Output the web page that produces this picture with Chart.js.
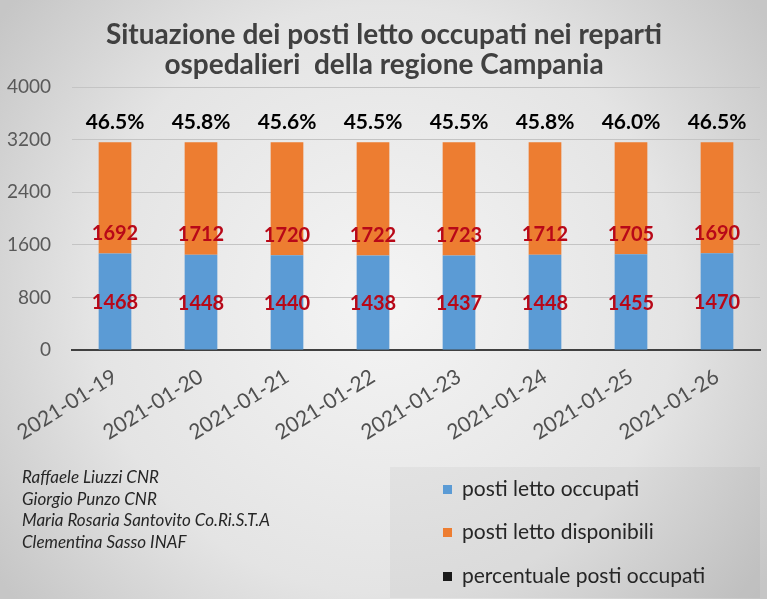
<!DOCTYPE html>
<html>
<head>
<meta charset="utf-8">
<script src="https://cdn.jsdelivr.net/npm/chart.js@4.4.1/dist/chart.umd.min.js"></script>
<style>
  html, body { margin: 0; padding: 0; background: #e0e0e0; }
  #wrap { width: 767px; height: 599px; position: relative; }
</style>
</head>
<body>
<div id="wrap"><canvas id="chart"></canvas></div>
<script>
const dates = ['2021-01-19', '2021-01-20', '2021-01-21', '2021-01-22', '2021-01-23', '2021-01-24', '2021-01-25', '2021-01-26'];
const occupied = [1468, 1448, 1440, 1438, 1437, 1448, 1455, 1470];
const available = [1692, 1712, 1720, 1722, 1723, 1712, 1705, 1690];
const percent = [46.5, 45.8, 45.6, 45.5, 45.5, 45.8, 46.0, 46.5];
const titleLines = ['Situazione dei posti letto occupati nei reparti', 'ospedalieri  della regione Campania'];
const authors = ['Raffaele Liuzzi CNR', 'Giorgio Punzo CNR', 'Maria Rosaria Santovito Co.Ri.S.T.A', 'Clementina Sasso INAF'];

const FONT = 'Lato, "Open Sans", sans-serif';

// grey radial background like the spreadsheet chart
const bgPlugin = {
  id: 'bg',
  beforeDraw(chart) {
    const { ctx, width, height } = chart;
    const g = ctx.createRadialGradient(width / 2, height / 2, 20, width / 2, height / 2, width * 0.62);
    g.addColorStop(0, '#f3f3f3');
    g.addColorStop(0.6, '#e4e4e4');
    g.addColorStop(1, '#c6c6c6');
    ctx.save();
    ctx.fillStyle = g;
    ctx.fillRect(0, 0, width, height);
    ctx.restore();
  }
};

// value labels on the bars + percentage above
const labelPlugin = {
  id: 'labels',
  afterDatasetsDraw(chart) {
    const { ctx } = chart;
    const y = chart.scales.y;
    const bars = chart.getDatasetMeta(0).data;
    ctx.save();
    ctx.textAlign = 'center';
    ctx.textBaseline = 'middle';
    bars.forEach((bar, i) => {
      ctx.font = 'bold 20px ' + FONT;
      ctx.fillStyle = '#b80818';
      ctx.fillText(occupied[i], bar.x, y.getPixelForValue(occupied[i] / 2) + 1);
      ctx.fillText(available[i], bar.x, y.getPixelForValue(occupied[i]) - 20);
      ctx.font = 'bold 21px ' + FONT;
      ctx.fillStyle = '#000';
      ctx.fillText(percent[i].toFixed(1) + '%', bar.x, y.getPixelForValue(occupied[i] + available[i]) - 20);
    });
    ctx.restore();
  }
};

// title, authors and legend box
const extrasPlugin = {
  id: 'extras',
  afterDraw(chart) {
    const { ctx } = chart;
    ctx.save();
    ctx.fillStyle = '#404040';
    ctx.font = 'bold 28px ' + FONT;
    ctx.textAlign = 'center';
    ctx.textBaseline = 'alphabetic';
    titleLines.forEach((t, i) => ctx.fillText(t, 384, 44 + i * 30));

    ctx.font = 'italic 17px ' + FONT;
    ctx.fillStyle = '#262626';
    ctx.textAlign = 'left';
    authors.forEach((a, i) => ctx.fillText(a, 22, 483 + i * 21.7));

    ctx.fillStyle = 'rgba(0,0,0,0.035)';
    ctx.fillRect(390, 467, 370, 131);
    ctx.textBaseline = 'middle';
    const ys = [489, 532, 576];
    chart.data.datasets.forEach((ds, i) => {
      ctx.fillStyle = ds.backgroundColor;
      ctx.fillRect(443, ys[i] - 4, 9, 9);
      ctx.fillStyle = '#262626';
      ctx.font = '21px ' + FONT;
      ctx.fillText(ds.label, 462, ys[i]);
    });
    ctx.restore();
  }
};

new Chart(document.getElementById('chart').getContext('2d'), {
  type: 'bar',
  data: {
    labels: dates,
    datasets: [
      {
        label: 'posti letto occupati',
        data: occupied,
        backgroundColor: '#5b9bd5',
        barPercentage: 0.38,
        categoryPercentage: 1
      },
      {
        label: 'posti letto disponibili',
        data: available,
        backgroundColor: '#ed7d31',
        barPercentage: 0.38,
        categoryPercentage: 1
      },
      {
        type: 'line',
        label: 'percentuale posti occupati',
        data: percent,
        yAxisID: 'yp',
        showLine: false,
        pointRadius: 0,
        backgroundColor: '#1a1a1a'
      }
    ]
  },
  options: {
    responsive: true,
    maintainAspectRatio: false,
    animation: false,
    layout: { padding: { top: 87, right: 7, left: 0, bottom: 0 } },
    plugins: {
      legend: { display: false },
      title: { display: false },
      tooltip: { enabled: false }
    },
    scales: {
      x: {
        stacked: true,
        grid: { display: false },
        border: { color: '#404040', width: 2 },
        ticks: {
          color: '#505050',
          font: { family: FONT, size: 21 },
          minRotation: 32,
          maxRotation: 32,
          padding: 6
        },
        afterFit(scale) { scale.height = 249; }
      },
      y: {
        stacked: true,
        min: 0,
        max: 4000,
        ticks: {
          stepSize: 800,
          color: '#595959',
          font: { family: FONT, size: 19 },
          padding: 21,
          callback: v => String(v)
        },
        grid: {
          color: ctx => ctx.tick.value === 0 ? 'rgba(0,0,0,0)' : '#c4c4c4',
          drawTicks: false
        },
        border: { display: false },
        afterFit(scale) { scale.width = 72; }
      },
      yp: { display: false, min: 0, max: 100 }
    }
  },
  plugins: [bgPlugin, labelPlugin, extrasPlugin]
});
</script>
</body>
</html>
